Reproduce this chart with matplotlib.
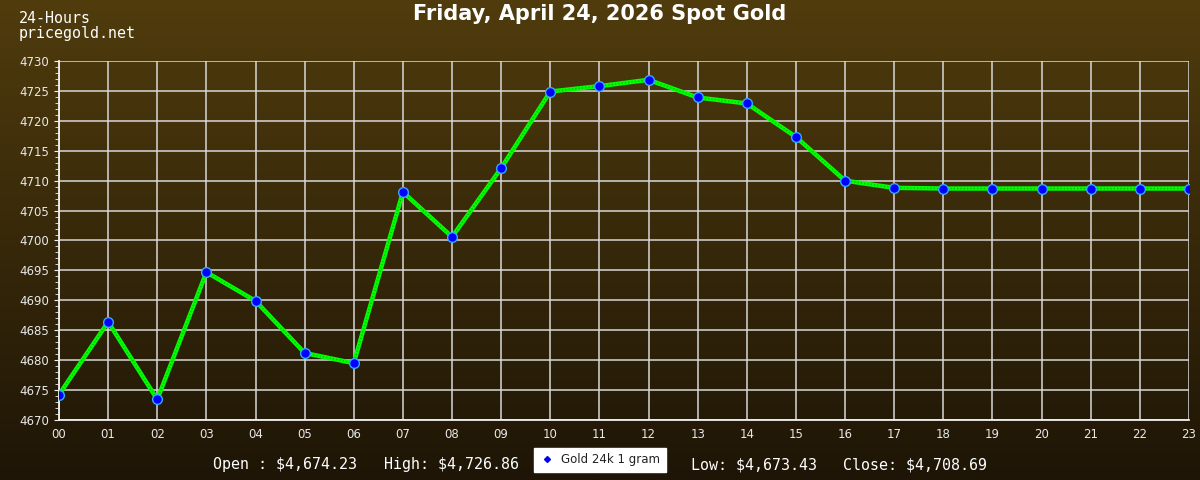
import numpy as np
import matplotlib
matplotlib.use("Agg")
import matplotlib.pyplot as plt
from matplotlib.lines import Line2D
from matplotlib.ticker import MultipleLocator

# hourly spot gold prices
hours = ["00", "01", "02", "03", "04", "05", "06", "07", "08", "09", "10", "11",
         "12", "13", "14", "15", "16", "17", "18", "19", "20", "21", "22", "23"]
prices = [4674.23, 4686.4, 4673.43, 4694.7, 4689.9, 4681.2, 4679.5, 4708.1,
          4700.6, 4712.1, 4724.9, 4725.8, 4726.86, 4723.9, 4722.9, 4717.3,
          4710.0, 4708.8, 4708.69, 4708.69, 4708.69, 4708.69, 4708.69, 4708.69]

title = "Friday, April 24, 2026 Spot Gold"
summary = [("Open : $4,674.23", 213), ("High: $4,726.86", 384),
           ("Low: $4,673.43", 691), ("Close: $4,708.69", 843)]

fig = plt.figure(figsize=(12, 4.8), dpi=100)

# gradient background over the whole figure
bg = fig.add_axes([0, 0, 1, 1], zorder=-10)
top = np.array([0x50, 0x3c, 0x0d]) / 255
bot = np.array([0x1e, 0x15, 0x06]) / 255
t = np.linspace(0, 1, 256)[:, None]
grad = (top * (1 - t) + bot * t)[:, None, :]
bg.imshow(grad, aspect="auto", extent=[0, 1, 0, 1])
bg.axis("off")

ax = fig.add_axes([59 / 1200, 60 / 480, 1130 / 1200, 359 / 480])
ax.set_facecolor("none")
x = np.arange(len(hours))
ax.plot(x, prices, color="#00ff00", lw=3.2, zorder=3)
ax.plot(x, prices, color="#00b000", lw=1.0, ls=(0, (0.8, 1.6)), zorder=3)
ax.plot(x, prices, ls="none", marker="o", ms=7, mfc="#0000ff",
        mec="#33aaff", mew=1, zorder=4)

ax.set_xlim(0, 23)
ax.set_ylim(4670, 4730)
ax.set_xticks(x)
ax.set_xticklabels(hours)
ax.yaxis.set_major_locator(MultipleLocator(5))
ax.yaxis.set_minor_locator(MultipleLocator(1))
ax.grid(True, which="major", color="#d8d8d8", lw=1.1)
for s in ["top", "right"]:
    ax.spines[s].set_visible(False)
for s in ["left", "bottom"]:
    ax.spines[s].set_color("#f0f0f0")
    ax.spines[s].set_linewidth(1.3)
ax.tick_params(axis="both", colors="#f0f0f0", labelsize=8.5, labelcolor="#e8e8e8")
ax.tick_params(axis="y", which="minor", length=3, color="#f0f0f0")
ax.tick_params(axis="x", length=0, pad=6)

fig.text(0.5, 1 - 14 / 480, title, ha="center", va="center", color="white",
         fontsize=15, fontweight="bold")
fig.text(19 / 1200, 1 - 26 / 480, "24-Hours\npricegold.net", ha="left",
         va="center", color="white", fontsize=10.8, family="DejaVu Sans Mono",
         linespacing=1.0)

for txt, px in summary:
    fig.text(px / 1200, 1 - 465 / 480, txt, ha="left", va="center",
             color="white", fontsize=10.8, family="DejaVu Sans Mono")

handle = Line2D([], [], ls="none", marker="D", ms=3, mfc="#0000ff", mec="#0000ff")
leg = fig.legend([handle], ["Gold 24k 1 gram"], loc="center",
                 bbox_to_anchor=(600 / 1200, 1 - 460 / 480), frameon=True,
                 fancybox=False, framealpha=1, edgecolor="white",
                 facecolor="white", fontsize=8.5, handlelength=1.2,
                 borderpad=0.5, handletextpad=0.6)
for tx in leg.get_texts():
    tx.set_color("#222222")

fig.savefig("out.png", dpi=100)
